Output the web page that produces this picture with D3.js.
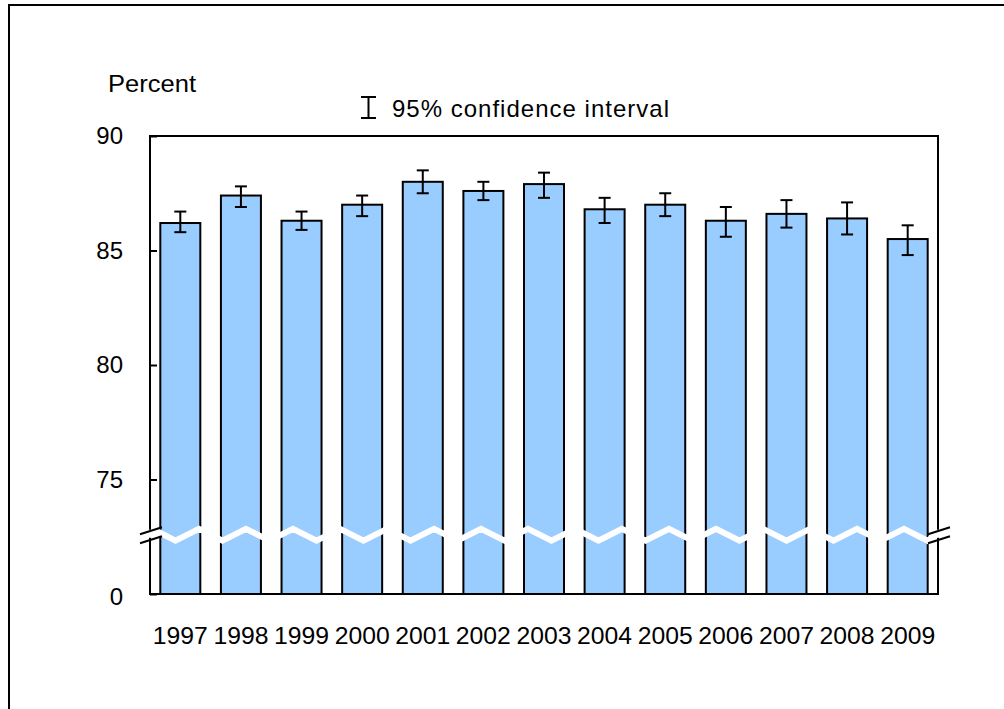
<!DOCTYPE html>
<html>
<head>
<meta charset="utf-8">
<script src="https://cdn.jsdelivr.net/npm/d3@7"></script>
<style>
  html, body { margin: 0; padding: 0; background: #fff; }
  svg { display: block; }
  text { font-family: "Liberation Sans", Arial, sans-serif; fill: #000; }
</style>
</head>
<body>
<svg id="chart" width="1004" height="709"></svg>
<script>
const years = ["1997","1998","1999","2000","2001","2002","2003","2004","2005","2006","2007","2008","2009"];
const values = [86.2, 87.4, 86.3, 87.0, 88.0, 87.6, 87.9, 86.8, 87.0, 86.3, 86.6, 86.4, 85.5];
const lower  = [85.8, 86.9, 85.9, 86.5, 87.5, 87.2, 87.3, 86.2, 86.5, 85.6, 86.0, 85.7, 84.8];
const upper  = [86.7, 87.8, 86.7, 87.4, 88.5, 88.0, 88.4, 87.3, 87.5, 86.9, 87.2, 87.1, 86.1];
const tickValues = [0, 75, 80, 85, 90];
const breakValue = 72.5;
const yLabel = "Percent";
const legendLabel = "95% confidence interval";

const svg = d3.select("#chart");
const plot = { left: 150, top: 136, right: 938, bottom: 594 };

// outer frame (extends beyond the picture on right and bottom)
svg.append("rect").attr("x", 9).attr("y", 5).attr("width", 1100).attr("height", 800)
  .attr("fill", "none").attr("stroke", "#000").attr("stroke-width", 2);

const x = d3.scaleBand().domain(years).range([plot.left, plot.right]).paddingInner(0.34).paddingOuter(0.17);
const pxPerUnit = (479.5 - 136) / 15;
const yBreak = plot.top + (90 - breakValue) * pxPerUnit;
const y = d3.scaleLinear().domain([0, breakValue, 90]).range([plot.bottom, yBreak, plot.top]);

// bars
svg.append("g").selectAll("rect").data(values).join("rect")
  .attr("x", (d, i) => x(years[i]))
  .attr("y", d => y(d))
  .attr("width", x.bandwidth())
  .attr("height", d => y(0) - y(d))
  .attr("fill", "#99CCFF")
  .attr("stroke", "#000")
  .attr("stroke-width", 2);

// error bars
const eg = svg.append("g").attr("stroke", "#000").attr("stroke-width", 2);
years.forEach((yr, i) => {
  const cx = x(yr) + x.bandwidth() / 2;
  eg.append("line").attr("x1", cx).attr("x2", cx).attr("y1", y(lower[i])).attr("y2", y(upper[i]));
  eg.append("line").attr("x1", cx - 6).attr("x2", cx + 6).attr("y1", y(lower[i])).attr("y2", y(lower[i]));
  eg.append("line").attr("x1", cx - 6).attr("x2", cx + 6).attr("y1", y(upper[i])).attr("y2", y(upper[i]));
});

// plot frame
svg.append("rect").attr("x", plot.left).attr("y", plot.top)
  .attr("width", plot.right - plot.left).attr("height", plot.bottom - plot.top)
  .attr("fill", "none").attr("stroke", "#000").attr("stroke-width", 2);

// y axis
const yAxis = d3.axisLeft(y).tickValues(tickValues).tickSizeInner(-7).tickSizeOuter(0).tickPadding(27);
const ya = svg.append("g").attr("transform", `translate(${plot.left},0)`).call(yAxis);
ya.select(".domain").remove();
ya.selectAll(".tick line").attr("stroke", "#000").attr("stroke-width", 2);
ya.selectAll(".tick text").attr("font-size", 24).attr("font-family", "Liberation Sans, Arial, sans-serif").attr("fill", "#000");
ya.select(".tick text").attr("dy", "0.45em");

// x labels
svg.append("g").selectAll("text").data(years).join("text")
  .attr("x", d => x(d) + x.bandwidth() / 2)
  .attr("y", 644)
  .attr("text-anchor", "middle")
  .attr("font-size", 24)
  .attr("textLength", 55).attr("lengthAdjust", "spacingAndGlyphs")
  .text(d => d);

// axis break: white zigzag
const yc = yBreak - 2;
const zz = [];
let k = 0;
for (let px = plot.left + 2; px <= plot.right - 2; px += 23.5) {
  zz.push([px, yc + (k % 2 === 0 ? -6 : 6)]);
  k++;
}
zz.push([plot.right - 2, yc]);
svg.append("path").attr("d", d3.line()(zz)).attr("fill", "none")
  .attr("stroke", "#fff").attr("stroke-width", 6);

// break marks on the axis
[plot.left, plot.right].forEach(ax => {
  svg.append("rect").attr("x", ax - 3).attr("y", yc - 5).attr("width", 6).attr("height", 8).attr("fill", "#fff");
  [-4, 5].forEach(off => {
    svg.append("line").attr("x1", ax - 10).attr("y1", yc + off + 3.5)
      .attr("x2", ax + 12).attr("y2", yc + off - 3.5)
      .attr("stroke", "#000").attr("stroke-width", 2);
  });
});

// y label
svg.append("text").attr("x", 108).attr("y", 92).attr("font-size", 24)
  .attr("textLength", 88).attr("lengthAdjust", "spacingAndGlyphs").text(yLabel);

// legend
const lg = svg.append("g").attr("stroke", "#000").attr("stroke-width", 2);
lg.append("line").attr("x1", 368.5).attr("x2", 368.5).attr("y1", 97).attr("y2", 118);
lg.append("line").attr("x1", 361).attr("x2", 376).attr("y1", 97).attr("y2", 97);
lg.append("line").attr("x1", 361).attr("x2", 376).attr("y1", 118).attr("y2", 118);
svg.append("text").attr("x", 392).attr("y", 117).attr("font-size", 24)
  .attr("textLength", 277).attr("lengthAdjust", "spacing").text(legendLabel);
</script>
</body>
</html>
